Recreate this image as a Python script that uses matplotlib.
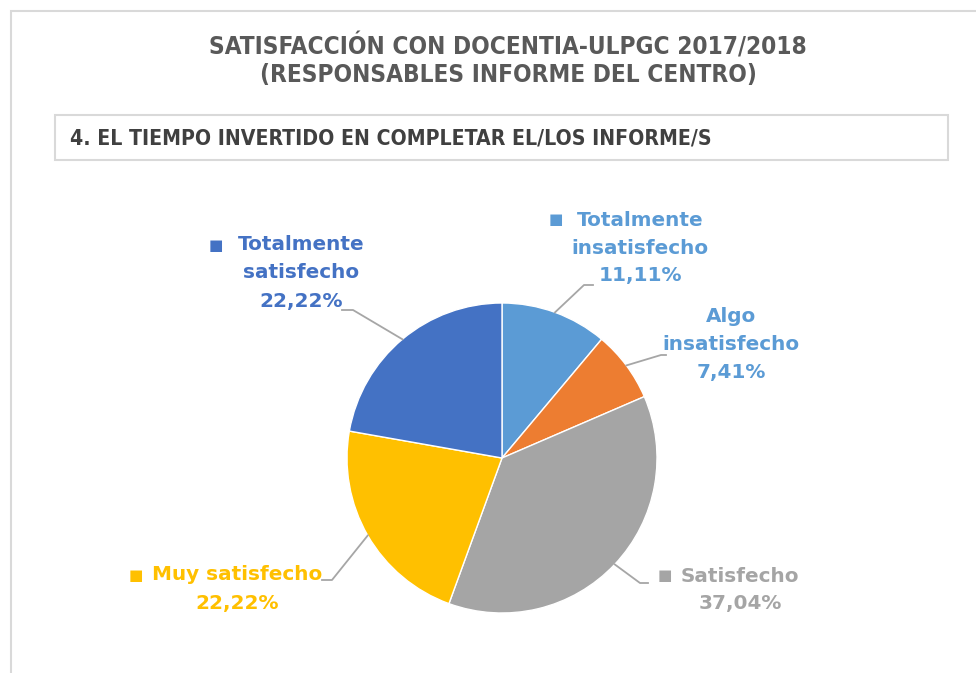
import matplotlib
matplotlib.use("Agg")
import matplotlib.pyplot as plt
import numpy as np
from matplotlib.patches import Rectangle
from matplotlib.lines import Line2D

# data
categories = ["Totalmente\ninsatisfecho", "Algo\ninsatisfecho", "Satisfecho",
              "Muy satisfecho", "Totalmente\nsatisfecho"]
percentages = [11.11, 7.41, 37.04, 22.22, 22.22]
slice_colors = ["#5B9BD5", "#ED7D31", "#A5A5A5", "#FFC000", "#4472C4"]
label_colors = ["#5B9BD5", "#5B9BD5", "#A5A5A5", "#FFC000", "#4472C4"]
show_square = [True, False, True, True, True]

title = "SATISFACCIÓN CON DOCENTIA-ULPGC 2017/2018\n(RESPONSABLES INFORME DEL CENTRO)"
subtitle = "4. EL TIEMPO INVERTIDO EN COMPLETAR EL/LOS INFORME/S"

W, H = 976, 673
fig = plt.figure(figsize=(W / 100, H / 100), dpi=100)


def fx(x):
    return x / W


def fy(y):
    return 1 - y / H


cond = dict(family=["DejaVu Sans"], stretch="condensed", weight="bold")

# outer frame and subtitle box
fig.patches.append(Rectangle((fx(11), fy(700)), fx(1000), (700 - 11) / H, transform=fig.transFigure,
                             fill=False, edgecolor="#d9d9d9", lw=1.5))
fig.patches.append(Rectangle((fx(55), fy(160)), fx(948) - fx(55), 45 / H, transform=fig.transFigure,
                             fill=False, edgecolor="#d9d9d9", lw=1.5))

fig.text(fx(508), fy(60), title, ha="center", va="center", fontsize=17.5,
         color="#595959", linespacing=1.2, **cond)
fig.text(fx(70), fy(138), subtitle, ha="left", va="center", fontsize=15.2,
         color="#404040", **cond)

# pie
cx, cy, r = 502, 458, 155
ax = fig.add_axes([fx(cx - r), fy(cy + r), 2 * r / W, 2 * r / H])
wedges, _ = ax.pie(percentages, colors=slice_colors, startangle=90, counterclock=False,
                   radius=1, wedgeprops=dict(edgecolor="white", linewidth=1))
ax.set_xlim(-1, 1)
ax.set_ylim(-1, 1)
ax.axis("off")

# label layout: text center (px), square x (px), leader elbow points (px)
label_pos = [(640, 248), (731, 345), (740, 590), (237, 589), (301, 273)]
square_x = [556, None, 665, 136, 216]
elbows = [[(584, 285), (593, 285)],
          [(661, 355), (666, 355)],
          [(640, 583), (648, 583)],
          [(332, 580), (322, 580)],
          [(353, 310), (342, 310)]]

to_fig = fig.transFigure.inverted()
for i, w in enumerate(wedges):
    ang = np.deg2rad((w.theta1 + w.theta2) / 2)
    start = ax.transData.transform((np.cos(ang), np.sin(ang)))
    sx, sy = to_fig.transform(start)
    pts = [(sx, sy)] + [(fx(px), fy(py)) for px, py in elbows[i]]
    fig.lines.append(Line2D([p[0] for p in pts], [p[1] for p in pts], transform=fig.transFigure,
                            color="#a6a6a6", lw=1.3))

    lx, ly = label_pos[i]
    text = categories[i] + "\n" + f"{percentages[i]:.2f}".replace(".", ",") + "%"
    fig.text(fx(lx), fy(ly), text, ha="center", va="center", fontsize=14.4, weight="bold",
             color=label_colors[i], linespacing=1.6, family=["DejaVu Sans"])
    if show_square[i]:
        nlines = text.count("\n") + 1
        top = ly - (nlines - 1) * 28 / 2
        fig.text(fx(square_x[i]), fy(top), "■", ha="center", va="center", fontsize=11,
                 color=label_colors[i], family=["DejaVu Sans"])

fig.savefig("out.png", dpi=100)
